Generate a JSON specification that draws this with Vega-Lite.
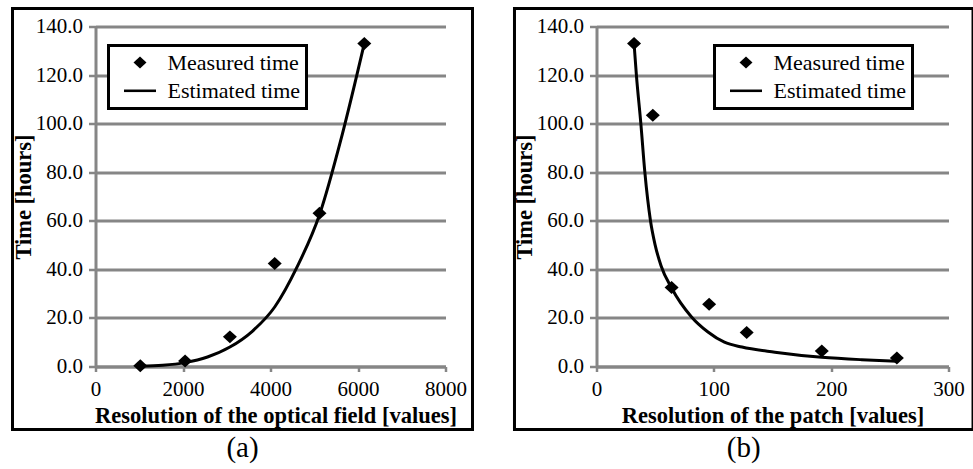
{
  "$schema": "https://vega.github.io/schema/vega-lite/v6.json",
  "background": "white",
  "padding": {"left": 10.5, "top": 6.5, "right": 0, "bottom": 0},
  "spacing": 38,
  "config": {
    "view": {"stroke": null},
    "font": "Liberation Serif",
    "axis": {
      "labelFont": "Liberation Serif", "labelFontSize": 21, "labelColor": "black",
      "titleFont": "Liberation Serif", "titleFontSize": 22.5, "titleFontWeight": "bold", "titleColor": "black",
      "domainColor": "#868686", "domainWidth": 3, "tickColor": "#868686", "tickWidth": 2.5,
      "gridColor": "#868686", "gridWidth": 3
    },
    "axisX": {"grid": false, "tickSize": 5, "labelPadding": 6.5, "titlePadding": 5, "labelFlush": false},
    "axisY": {"grid": true, "tickSize": 7, "labelPadding": 6, "titlePadding": 0},
    "legend": {
      "orient": "none", "legendY": 19, "padding": 6, "symbolOffset": 14.5, "labelOffset": 16.5,
      "rowPadding": 6.3, "labelFont": "Liberation Serif", "labelFontSize": 22, "labelColor": "black",
      "symbolSize": 256, "labelLimit": 400,
      "strokeColor": "black", "strokeWidth": 3, "fillColor": "white",
      "symbolStrokeColor": "black", "symbolStrokeWidth": 0, "symbolFillColor": "black", "symbolOpacity": 1
    },
    "title": {"font": "Liberation Serif", "fontSize": 29, "fontWeight": "normal", "color": "black", "orient": "bottom", "anchor": "middle", "frame": "bounds", "offset": 3}
  },
  "datasets": {
    "measA": [
      {"resolution": 1024, "time": 0.3, "series": "Measured time"},
      {"resolution": 2048, "time": 2.3, "series": "Measured time"},
      {"resolution": 3072, "time": 12.2, "series": "Measured time"},
      {"resolution": 4096, "time": 42.4, "series": "Measured time"},
      {"resolution": 5120, "time": 63.1, "series": "Measured time"},
      {"resolution": 6144, "time": 133.0, "series": "Measured time"}
    ],
    "estA": [
      {"resolution": 1024, "time": 0.1},
      {"resolution": 1536, "time": 0.5},
      {"resolution": 2048, "time": 1.6},
      {"resolution": 2560, "time": 3.9},
      {"resolution": 3072, "time": 8.0},
      {"resolution": 3584, "time": 14.5},
      {"resolution": 4096, "time": 24.5},
      {"resolution": 4608, "time": 41.0},
      {"resolution": 5120, "time": 62.5},
      {"resolution": 5632, "time": 95.0},
      {"resolution": 6144, "time": 133.0}
    ],
    "measB": [
      {"resolution": 32, "time": 133.0, "series": "Measured time"},
      {"resolution": 48, "time": 103.5, "series": "Measured time"},
      {"resolution": 64, "time": 32.5, "series": "Measured time"},
      {"resolution": 96, "time": 25.6, "series": "Measured time"},
      {"resolution": 128, "time": 14.0, "series": "Measured time"},
      {"resolution": 192, "time": 6.4, "series": "Measured time"},
      {"resolution": 256, "time": 3.5, "series": "Measured time"}
    ],
    "estB": [
      {"resolution": 32, "time": 133.0},
      {"resolution": 34, "time": 120.0},
      {"resolution": 37.8, "time": 100.0},
      {"resolution": 41.2, "time": 80.0},
      {"resolution": 46, "time": 60.0},
      {"resolution": 50, "time": 50.0},
      {"resolution": 55, "time": 41.5},
      {"resolution": 64, "time": 32.3},
      {"resolution": 81, "time": 20.4},
      {"resolution": 95, "time": 14.2},
      {"resolution": 109, "time": 10.0},
      {"resolution": 124, "time": 8.0},
      {"resolution": 152, "time": 5.9},
      {"resolution": 192, "time": 3.8},
      {"resolution": 226, "time": 2.8},
      {"resolution": 256, "time": 2.2}
    ]
  },
  "hconcat": [
    {
      "width": 350, "height": 340,
      "title": {"text": "(a)"},
      "layer": [
        {
          "data": {"values": [{}]},
          "mark": {"type": "rect", "filled": false, "stroke": "black", "strokeWidth": 3, "clip": false},
          "encoding": {
            "x": {"datum": -1897, "type": "quantitative", "scale": {"domain": [0, 8000], "nice": false, "zero": false}, "title": "Resolution of the optical field [values]"},
            "x2": {"datum": 8617},
            "y": {"datum": 147.4, "type": "quantitative", "scale": {"domain": [0, 140], "nice": false, "zero": false}, "title": "Time [hours]"},
            "y2": {"datum": -25.9}
          }
        },
        {
          "data": {"name": "measA"},
          "mark": {"type": "point", "filled": true, "fill": "black", "opacity": 1, "size": 299},
          "encoding": {
            "x": {"field": "resolution", "type": "quantitative", "scale": {"domain": [0, 8000], "nice": false, "zero": false}, "title": "Resolution of the optical field [values]", "axis": {"values": [0, 2000, 4000, 6000, 8000], "format": "d", "titleX": 180}},
            "y": {"field": "time", "type": "quantitative", "scale": {"domain": [0, 140], "nice": false, "zero": false}, "title": "Time [hours]", "axis": {"values": [0, 20, 40, 60, 80, 100, 120, 140], "format": ".1f"}},
            "shape": {
              "field": "series", "type": "nominal",
              "scale": {"domain": ["Measured time", "Estimated time"], "range": ["M-0.81,0L0,-0.75L0.81,0L0,0.75Z", "M-2,-0.16L2,-0.16L2,0.16L-2,0.16Z"]},
              "legend": {
                "title": null, "legendX": 13, "labelExpr": "datum.label + '    '",
                "strokeColor": "black", "fillColor": "white", "symbolSize": 256,
                "symbolFillColor": "black"
              }
            }
          }
        },
        {
          "data": {"name": "estA"},
          "mark": {"type": "line", "color": "black", "strokeWidth": 3, "interpolate": "monotone"},
          "encoding": {
            "x": {"field": "resolution", "type": "quantitative", "scale": {"domain": [0, 8000], "nice": false, "zero": false}, "title": "Resolution of the optical field [values]"},
            "y": {"field": "time", "type": "quantitative", "scale": {"domain": [0, 140], "nice": false, "zero": false}, "title": "Time [hours]"}
          }
        }
      ]
    },
    {
      "width": 352, "height": 340,
      "title": {"text": "(b)"},
      "layer": [
        {
          "data": {"values": [{}]},
          "mark": {"type": "rect", "filled": false, "stroke": "black", "strokeWidth": 3, "clip": false},
          "encoding": {
            "x": {"datum": -69.9, "type": "quantitative", "scale": {"domain": [0, 300], "nice": false, "zero": false}, "title": "Resolution of the patch [values]"},
            "x2": {"datum": 320.9},
            "y": {"datum": 147.4, "type": "quantitative", "scale": {"domain": [0, 140], "nice": false, "zero": false}, "title": "Time [hours]"},
            "y2": {"datum": -25.9}
          }
        },
        {
          "data": {"name": "measB"},
          "mark": {"type": "point", "filled": true, "fill": "black", "opacity": 1, "size": 299},
          "encoding": {
            "x": {"field": "resolution", "type": "quantitative", "scale": {"domain": [0, 300], "nice": false, "zero": false}, "title": "Resolution of the patch [values]", "axis": {"values": [0, 100, 200, 300], "format": "d"}},
            "y": {"field": "time", "type": "quantitative", "scale": {"domain": [0, 140], "nice": false, "zero": false}, "title": "Time [hours]", "axis": {"values": [0, 20, 40, 60, 80, 100, 120, 140], "format": ".1f"}},
            "shape": {
              "field": "series", "type": "nominal",
              "scale": {"domain": ["Measured time", "Estimated time"], "range": ["M-0.81,0L0,-0.75L0.81,0L0,0.75Z", "M-2,-0.16L2,-0.16L2,0.16L-2,0.16Z"]},
              "legend": {
                "title": null, "legendX": 118, "labelExpr": "datum.label + '    '",
                "strokeColor": "black", "fillColor": "white", "symbolSize": 256,
                "symbolFillColor": "black"
              }
            }
          }
        },
        {
          "data": {"name": "estB"},
          "mark": {"type": "line", "color": "black", "strokeWidth": 3, "interpolate": "monotone"},
          "encoding": {
            "x": {"field": "resolution", "type": "quantitative", "scale": {"domain": [0, 300], "nice": false, "zero": false}, "title": "Resolution of the patch [values]"},
            "y": {"field": "time", "type": "quantitative", "scale": {"domain": [0, 140], "nice": false, "zero": false}, "title": "Time [hours]"}
          }
        }
      ]
    }
  ],
  "resolve": {"scale": {"shape": "independent"}, "legend": {"shape": "independent"}}
}
